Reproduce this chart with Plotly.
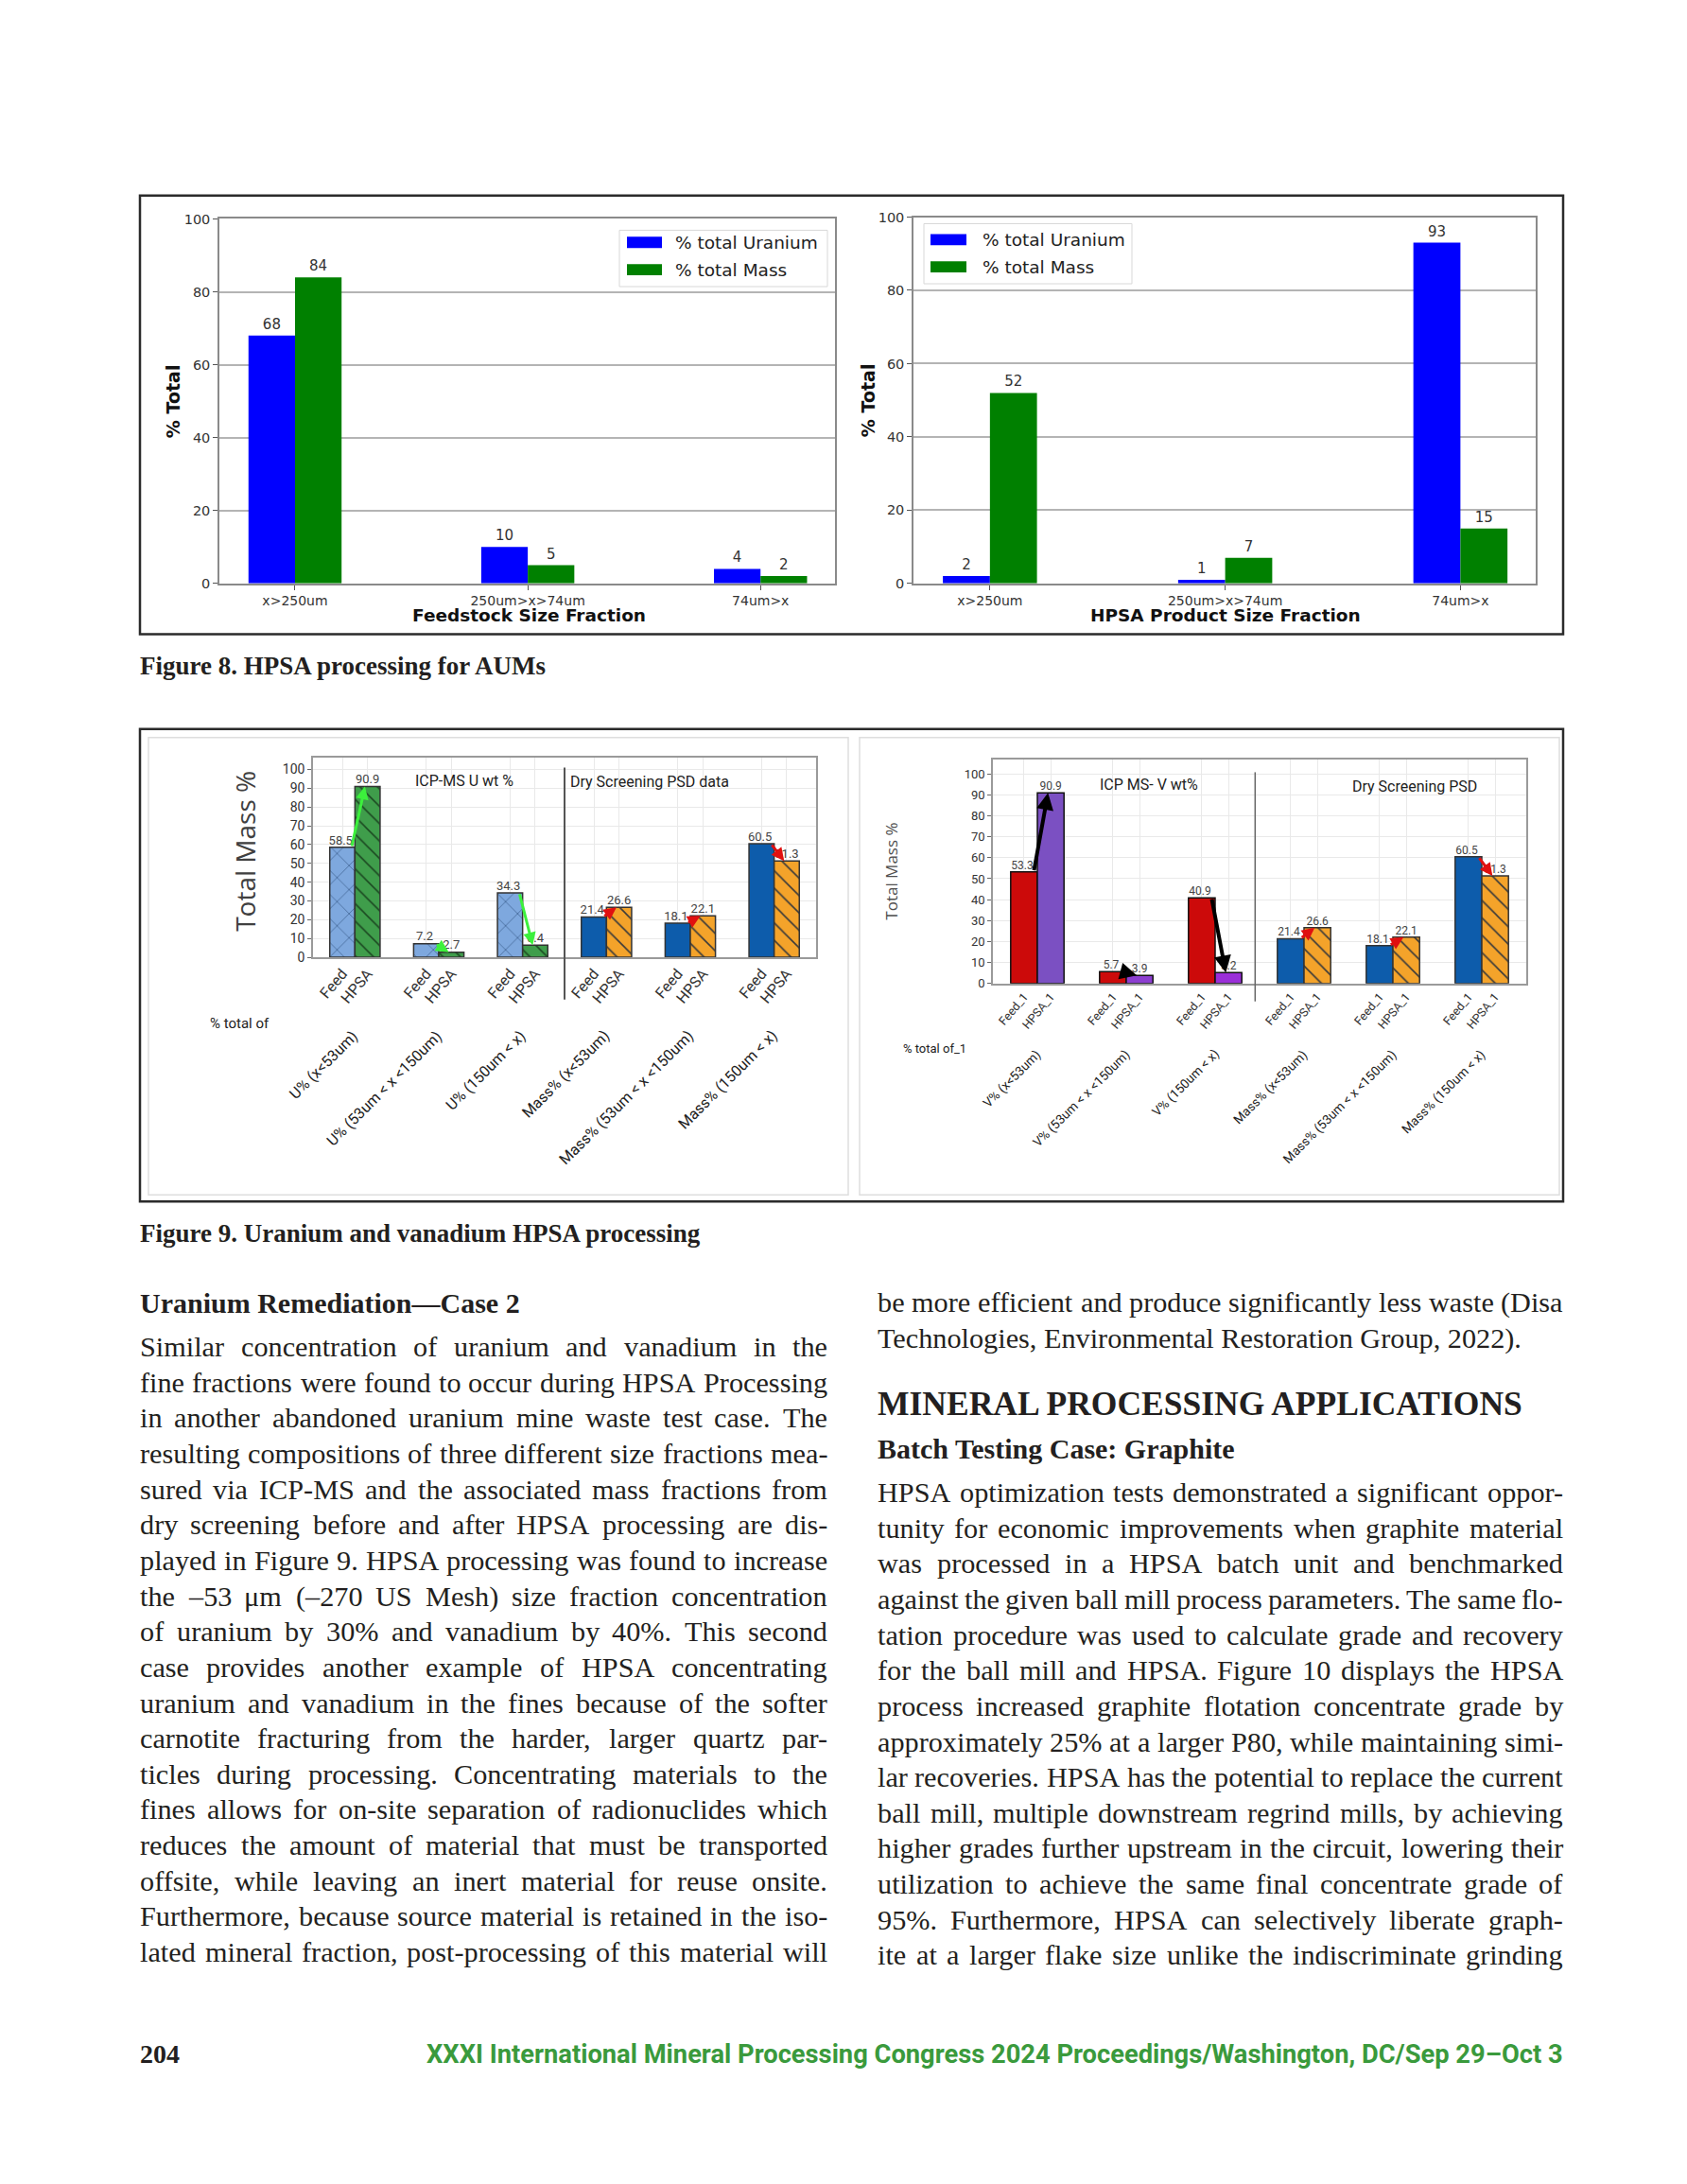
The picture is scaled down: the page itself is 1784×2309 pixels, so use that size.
import plotly.graph_objects as go

W, H = 1784, 2309


def X(x):
    return x / W


def Y(y):
    return 1 - y / H


# ---------------- data ----------------
fig8_size_fractions = ["x>250um", "250um>x>74um", "74um>x"]
feedstock_uranium = [68, 10, 4]
feedstock_mass = [84, 5, 2]
product_uranium = [2, 1, 93]
product_mass = [52, 7, 15]

feed_hpsa_labels = ["Feed", "HPSA"]
u_fractions = ["U% (x<53um)", "U% (53um < x <150um)", "U% (150um < x)"]
mass_fractions = ["Mass% (x<53um)", "Mass% (53um < x <150um)", "Mass% (150um < x)"]
u_feed = [58.5, 7.2, 34.3]
u_hpsa = [90.9, 2.7, 6.4]
mass_feed = [21.4, 18.1, 60.5]
mass_hpsa = [26.6, 22.1, 51.3]

feed_hpsa_labels_v = ["Feed_1", "HPSA_1"]
v_fractions = ["V% (x<53um)", "V% (53um < x <150um)", "V% (150um < x)"]
v_feed = [53.3, 5.7, 40.9]
v_hpsa = [90.9, 3.9, 5.2]

left_heading = "Uranium Remediation\u2014Case 2"
left_body = [
    "Similar concentration of uranium and vanadium in the",
    "fine fractions were found to occur during HPSA Processing",
    "in another abandoned uranium mine waste test case. The",
    "resulting compositions of three different size fractions mea-",
    "sured via ICP-MS and the associated mass fractions from",
    "dry screening before and after HPSA processing are dis-",
    "played in Figure 9. HPSA processing was found to increase",
    "the \u201353 \u03bcm (\u2013270 US Mesh) size fraction concentration",
    "of uranium by 30% and vanadium by 40%. This second",
    "case provides another example of HPSA concentrating",
    "uranium and vanadium in the fines because of the softer",
    "carnotite fracturing from the harder, larger quartz par-",
    "ticles during processing. Concentrating materials to the",
    "fines allows for on-site separation of radionuclides which",
    "reduces the amount of material that must be transported",
    "offsite, while leaving an inert material for reuse onsite.",
    "Furthermore, because source material is retained in the iso-",
    "lated mineral fraction, post-processing of this material will",
]
right_intro = [
    "be more efficient and produce significantly less waste (Disa",
    "Technologies, Environmental Restoration Group, 2022).",
]
right_heading = "MINERAL PROCESSING APPLICATIONS"
right_subheading = "Batch Testing Case: Graphite"
right_body = [
    "HPSA optimization tests demonstrated a significant oppor-",
    "tunity for economic improvements when graphite material",
    "was processed in a HPSA batch unit and benchmarked",
    "against the given ball mill process parameters. The same flo-",
    "tation procedure was used to calculate grade and recovery",
    "for the ball mill and HPSA. Figure 10 displays the HPSA",
    "process increased graphite flotation concentrate grade by",
    "approximately 25% at a larger P80, while maintaining simi-",
    "lar recoveries. HPSA has the potential to replace the current",
    "ball mill, multiple downstream regrind mills, by achieving",
    "higher grades further upstream in the circuit, lowering their",
    "utilization to achieve the same final concentrate grade of",
    "95%. Furthermore, HPSA can selectively liberate graph-",
    "ite at a larger flake size unlike the indiscriminate grinding",
]
caption8 = "Figure 8. HPSA processing for AUMs"
caption9 = "Figure 9. Uranium and vanadium HPSA processing"
page_number = "204"
footer = "XXXI International Mineral Processing Congress 2024 Proceedings/Washington, DC/Sep 29\u2013Oct 3"

# ---------------- styling ----------------
F8 = "DejaVu Sans"
F9 = "Roboto"
SERIF = "Liberation Serif"
INK = "#231f20"

fig = go.Figure()

# ---------- Figure 8 ----------
for xa, ya, ur, ms in (("x", "y", feedstock_uranium, feedstock_mass),
                       ("x2", "y2", product_uranium, product_mass)):
    for name, vals, col in (("% total Uranium", ur, "#0000ff"), ("% total Mass", ms, "#008000")):
        fig.add_trace(go.Bar(
            x=fig8_size_fractions, y=vals, name=name, marker=dict(color=col, line=dict(width=0)),
            text=vals, textposition="outside", constraintext="none", cliponaxis=False,
            textfont=dict(family=F8, size=15, color="#333333"),
            xaxis=xa, yaxis=ya, showlegend=False))

# ---------- Figure 9 ----------
u_pos = list(range(len(u_fractions)))
m_pos = [len(u_fractions) + i for i in range(len(mass_fractions))]
all_pos = u_pos + m_pos
BW = 0.3

HATCH_ORANGE = dict(shape="\\", fillmode="replace", bgcolor="#f4a32a", fgcolor="#3a3a3a", size=13, solidity=0.12)


def bar9(x, y, off, color, pattern, xa, ya, name, line_col="#333333"):
    m = dict(color=color, line=dict(color=line_col, width=1.5))
    if pattern:
        m["pattern"] = pattern
    return go.Bar(x=x, y=y, offset=off, width=BW, marker=m, name=name,
                  xaxis=xa, yaxis=ya, showlegend=False)


def labels9(x, y, shift, xa, ya, fs):
    return go.Scatter(x=[p + shift for p in x], y=y, mode="text", text=[str(v) for v in y],
                      textposition="top center", cliponaxis=False,
                      textfont=dict(family=F9, size=fs, color="#444444"),
                      xaxis=xa, yaxis=ya, showlegend=False, hoverinfo="skip")


# left (uranium)
fig.add_trace(bar9(u_pos, u_feed, -BW, "#7ea8de",
                   dict(shape="x", fillmode="replace", bgcolor="#7ea8de", fgcolor="#3d6290", size=18, solidity=0.08),
                   "x3", "y3", "U% Feed"))
fig.add_trace(bar9(u_pos, u_hpsa, 0, "#3f9d4b",
                   dict(shape="\\", fillmode="replace", bgcolor="#3f9d4b", fgcolor="#1c4a22", size=13, solidity=0.12),
                   "x3", "y3", "U% HPSA"))
fig.add_trace(bar9(m_pos, mass_feed, -BW, "#0d5cab", None, "x3", "y3", "Mass% Feed"))
fig.add_trace(bar9(m_pos, mass_hpsa, 0, "#f4a32a", HATCH_ORANGE, "x3", "y3", "Mass% HPSA"))

# right (vanadium)
fig.add_trace(bar9(u_pos, v_feed, -BW, "#cc0a0a", None, "x4", "y4", "V% Feed_1", "#111111"))
fig.add_trace(bar9(u_pos, v_hpsa, 0, ["#7b50c2", "#8c3ed0", "#9a2fd8"], None, "x4", "y4", "V% HPSA_1", "#111111"))
fig.add_trace(bar9(m_pos, mass_feed, -BW, "#0d5cab", None, "x4", "y4", "Mass% Feed_1"))
fig.add_trace(bar9(m_pos, mass_hpsa, 0, "#f4a32a", HATCH_ORANGE, "x4", "y4", "Mass% HPSA_1"))

# value labels drawn above all bars
for xs, ys, sh in ((u_pos, u_feed, -BW / 2 - 0.02), (u_pos, u_hpsa, BW / 2),
                   (m_pos, mass_feed, -BW / 2 - 0.02), (m_pos, mass_hpsa, BW / 2)):
    fig.add_trace(labels9(xs, ys, sh, "x3", "y3", 13))
for xs, ys, sh in ((u_pos, v_feed, -BW / 2 - 0.02), (u_pos, v_hpsa, BW / 2),
                   (m_pos, mass_feed, -BW / 2 - 0.02), (m_pos, mass_hpsa, BW / 2)):
    fig.add_trace(labels9(xs, ys, sh, "x4", "y4", 12))


# ---------------- axes ----------------
def ax8(dom, anchor):
    return dict(domain=[X(dom[0]), X(dom[1])], anchor=anchor, type="category", range=[-0.325, 2.32],
                showline=True, mirror=True, linecolor="#8a8a8a", linewidth=1.5,
                ticks="outside", ticklen=5, tickcolor="#555555",
                tickfont=dict(family=F8, size=14, color="#333333"), showgrid=False, zeroline=False)


def ay8(top, bottom, anchor):
    return dict(domain=[Y(bottom), Y(top)], anchor=anchor, range=[0, 100], tick0=0, dtick=20,
                showgrid=True, gridcolor="#b4b4b4", gridwidth=1.5,
                showline=True, mirror=True, linecolor="#8a8a8a", linewidth=1.5,
                ticks="outside", ticklen=5, tickcolor="#555555",
                tickfont=dict(family=F8, size=14.5, color="#333333"), zeroline=False)


def ax9(dom, anchor, labels, fs):
    tv, tt = [], []
    for p in all_pos:
        tv += [p - BW / 2, p + BW / 2]
        tt += labels
    return dict(domain=[X(dom[0]), X(dom[1])], anchor=anchor, range=[-0.5, 5.5],
                tickmode="array", tickvals=tv, ticktext=tt, tickangle=-50,
                showgrid=True, gridcolor="#e9e9e9", gridwidth=1,
                showline=True, mirror=True, linecolor="#9a9a9a", linewidth=1.5,
                ticks="", tickfont=dict(family=F9, size=fs, color="#333333"), zeroline=False)


def ay9(top, bottom, anchor, rng, fs):
    return dict(domain=[Y(bottom), Y(top)], anchor=anchor, range=rng, tick0=0, dtick=10,
                showgrid=True, gridcolor="#e9e9e9", gridwidth=1,
                showline=True, mirror=True, linecolor="#9a9a9a", linewidth=1.5,
                ticks="outside", ticklen=4, tickcolor="#666666",
                tickfont=dict(family=F9, size=fs, color="#333333"), zeroline=False)


fig.update_layout(
    width=W, height=H, margin=dict(l=0, r=0, t=0, b=0),
    paper_bgcolor="white", plot_bgcolor="white",
    barmode="group", bargap=0.6, bargroupgap=0,
    xaxis=ax8((224, 875), "y"), yaxis=ay8(217, 605, "x"),
    xaxis2=ax8((958, 1616), "y2"), yaxis2=ay8(215, 605, "x2"),
    xaxis3=ax9((323, 855), "y3", feed_hpsa_labels, 16), yaxis3=ay9(790, 1003, "x3", [0, 106.5], 14),
    xaxis4=ax9((1042, 1606), "y4", feed_hpsa_labels_v, 12.5), yaxis4=ay9(792, 1031, "x4", [0, 107], 13),
)

anns = []
shapes = []


def txt(x, y, s, size, family, color=INK, xanchor="left", yanchor="middle", angle=0, weight="normal",
        xref="paper"):
    # x: pixels when xref is paper, else data units; y: always page pixels
    anns.append(dict(x=X(x) if xref == "paper" else x, y=Y(y), xref=xref, yref="paper",
                     text=s, showarrow=False, xanchor=xanchor, yanchor=yanchor, textangle=angle,
                     borderpad=0, borderwidth=0,
                     font=dict(family=family, size=size, color=color, weight=weight)))


# frames
shapes.append(dict(type="rect", xref="paper", yref="paper", x0=X(140), x1=X(1645), y0=Y(659), y1=Y(192),
                   line=dict(color="#2b2b2b", width=2.5)))
shapes.append(dict(type="rect", xref="paper", yref="paper", x0=X(140), x1=X(1645), y0=Y(1263), y1=Y(760),
                   line=dict(color="#2b2b2b", width=2.5)))
for a, b in ((149, 889), (901, 1641)):
    shapes.append(dict(type="rect", xref="paper", yref="paper", x0=X(a), x1=X(b), y0=Y(1256), y1=Y(769),
                       line=dict(color="#dedede", width=1.5)))

# Figure 8 titles and legends
txt(175, 411, "% Total", 19, F8, "#111111", "center", angle=-90, weight="bold")
txt(910, 410, "% Total", 19, F8, "#111111", "center", angle=-90, weight="bold")
txt(551, 639, "Feedstock Size Fraction", 18.5, F8, "#111111", "center", weight="bold")
txt(1288, 639, "HPSA Product Size Fraction", 18.5, F8, "#111111", "center", weight="bold")

for (bx0, by0, bx1, by1, px0, px1, tx, ys) in ((647, 229, 867, 289, 655, 692, 706, (242, 271)),
                                               (969, 222, 1189, 286, 976, 1014, 1031, (239, 268))):
    shapes.append(dict(type="rect", xref="paper", yref="paper", x0=X(bx0), x1=X(bx1), y0=Y(by1), y1=Y(by0),
                       line=dict(color="#d8d8d8", width=1), fillcolor="rgba(255,255,255,0.85)"))
    for yy, col, name in ((ys[0], "#0000ff", "% total Uranium"), (ys[1], "#008000", "% total Mass")):
        shapes.append(dict(type="rect", xref="paper", yref="paper", x0=X(px0), x1=X(px1),
                           y0=Y(yy + 6), y1=Y(yy - 6), line=dict(width=0), fillcolor=col))
        txt(tx, yy, name, 18.5, F8, "#222222")

# Figure 9 texts
txt(251, 890, "Total Mass %", 28, "Open Sans", "#404040", "center", angle=-90)
txt(935, 912, "Total Mass %", 17, "Open Sans", "#505050", "center", angle=-90)
txt(1.31, 815, "ICP-MS U wt %", 16, F9, "#222222", "center", xref="x3")
txt(3.51, 816, "Dry Screening PSD data", 16, F9, "#222222", "center", xref="x3")
txt(1.26, 819, "ICP MS- V wt%", 16, F9, "#222222", "center", xref="x4")
txt(4.24, 821, "Dry Screening PSD", 16, F9, "#222222", "center", xref="x4")
txt(214, 1073, "% total of", 15, F9, "#222222")
txt(947, 1100, "% total of_1", 13, F9, "#222222")

for p, lab in zip(all_pos, u_fractions + mass_fractions):
    txt(p + 0.08, 1077, lab, 16, F9, "#222222", "right", "top", angle=-45, xref="x3")
for p, lab in zip(all_pos, v_fractions + mass_fractions):
    txt(p + 0.07, 1098, lab, 13.5, F9, "#222222", "right", "top", angle=-45, xref="x4")

# dividers
shapes.append(dict(type="line", xref="x3", yref="paper", x0=2.5, x1=2.5, y0=Y(1048), y1=Y(801),
                   line=dict(color="#555555", width=2)))
shapes.append(dict(type="line", xref="x4", yref="paper", x0=2.45, x1=2.45, y0=Y(1050), y1=Y(806),
                   line=dict(color="#666666", width=1.5)))


# arrows
def arrow(xa, ya, x0, y0, x1, y1, color, width):
    anns.append(dict(x=x1, y=y1, ax=x0, ay=y0, xref=xa, yref=ya, axref=xa, ayref=ya, text="",
                     showarrow=True, arrowhead=2, arrowsize=0.9, arrowwidth=width, arrowcolor=color,
                     standoff=0, startstandoff=0))


for p, f, h in zip(u_pos, u_feed, u_hpsa):
    arrow("x3", "y3", p - 0.04, f, p + 0.12, h, "#3cf03c", 3)
for p, f, h in zip(m_pos, mass_feed, mass_hpsa):
    arrow("x3", "y3", p - 0.04, f, p + 0.12, h, "#e01010", 3)
for p, f, h in zip(u_pos, v_feed, v_hpsa):
    arrow("x4", "y4", p - 0.04, f, p + 0.12, h, "#000000", 4)
for p, f, h in zip(m_pos, mass_feed, mass_hpsa):
    arrow("x4", "y4", p - 0.04, f, p + 0.12, h, "#e01010", 3)

# captions
txt(140, 693, caption8, 27, SERIF, INK, weight="bold")
txt(140, 1297, caption9, 27, SERIF, INK, weight="bold")

# ---------------- body text (justified) ----------------
TW = {' ': 250, '!': 333, '%': 833, '(': 333, ')': 333, ',': 250, '-': 333, '.': 250, '/': 278, ':': 278,
      ';': 278, 'A': 722, 'B': 667, 'C': 667, 'D': 722, 'E': 611, 'F': 556, 'G': 722, 'H': 722, 'I': 333,
      'J': 389, 'K': 722, 'L': 611, 'M': 889, 'N': 722, 'O': 722, 'P': 556, 'Q': 722, 'R': 667, 'S': 556,
      'T': 611, 'U': 722, 'V': 722, 'W': 944, 'X': 722, 'Y': 722, 'Z': 611, 'a': 444, 'b': 500, 'c': 444,
      'd': 500, 'e': 444, 'f': 333, 'g': 500, 'h': 500, 'i': 278, 'j': 278, 'k': 500, 'l': 278, 'm': 778,
      'n': 500, 'o': 500, 'p': 500, 'q': 500, 'r': 333, 's': 389, 't': 278, 'u': 500, 'v': 500, 'w': 722,
      'x': 500, 'y': 500, 'z': 444, '\u2013': 500, '\u2014': 1000, '\u03bc': 560}
for c in "0123456789":
    TW[c] = 500


def tw(s, fs):
    return sum(TW.get(c, 500) for c in s) / 1000.0 * fs


COLS = ((140, 867), (920, 1645))
LINE = 37.9


def fit_size(lines, width, cap=31.0):
    fs = cap
    while fs > 20:
        ok = True
        for ln in lines:
            ws = ln.split(" ")
            if len(ws) < 2:
                continue
            gap = (width - sum(tw(w, fs) for w in ws)) / (len(ws) - 1)
            if gap < 0.2 * fs:
                ok = False
                break
        if ok:
            return fs
        fs -= 0.25
    return fs


BODY_FS = min(fit_size(left_body, COLS[0][1] - COLS[0][0]),
              fit_size(right_body + right_intro[:1], COLS[1][1] - COLS[1][0]))


def add_lines(lines, col, y0, justify_last):
    x0, x1 = col
    for k, ln in enumerate(lines):
        y = y0 + k * LINE
        just = (k < len(lines) - 1) or justify_last
        ws = ln.split(" ")
        if not just or len(ws) < 2:
            txt(x0, y, ln, BODY_FS, SERIF, INK)
            continue
        widths = [tw(w, BODY_FS) for w in ws]
        gap = (x1 - x0 - sum(widths)) / (len(ws) - 1)
        x = x0
        for j, w in enumerate(ws):
            if j == len(ws) - 1:
                txt(x1, y, w, BODY_FS, SERIF, INK, "right")
            else:
                txt(x, y, w, BODY_FS, SERIF, INK)
            x += widths[j] + gap


txt(140, 1371, left_heading, 30, SERIF, INK, weight="bold")
add_lines(left_body, COLS[0], 1418, True)
add_lines(right_intro, COLS[1], 1371, False)
txt(920, 1478, right_heading, 35.5, SERIF, INK, weight="bold")
txt(920, 1526, right_subheading, 30, SERIF, INK, weight="bold")
add_lines(right_body, COLS[1], 1573, True)

# footer
txt(140, 2171, page_number, 28, SERIF, INK, weight="bold")
txt(1645, 2171, footer, 27.3, "Roboto", "#3a9a3c", "right", weight="bold")

fig.update_layout(annotations=anns, shapes=shapes)
fig.write_html("out.html")
